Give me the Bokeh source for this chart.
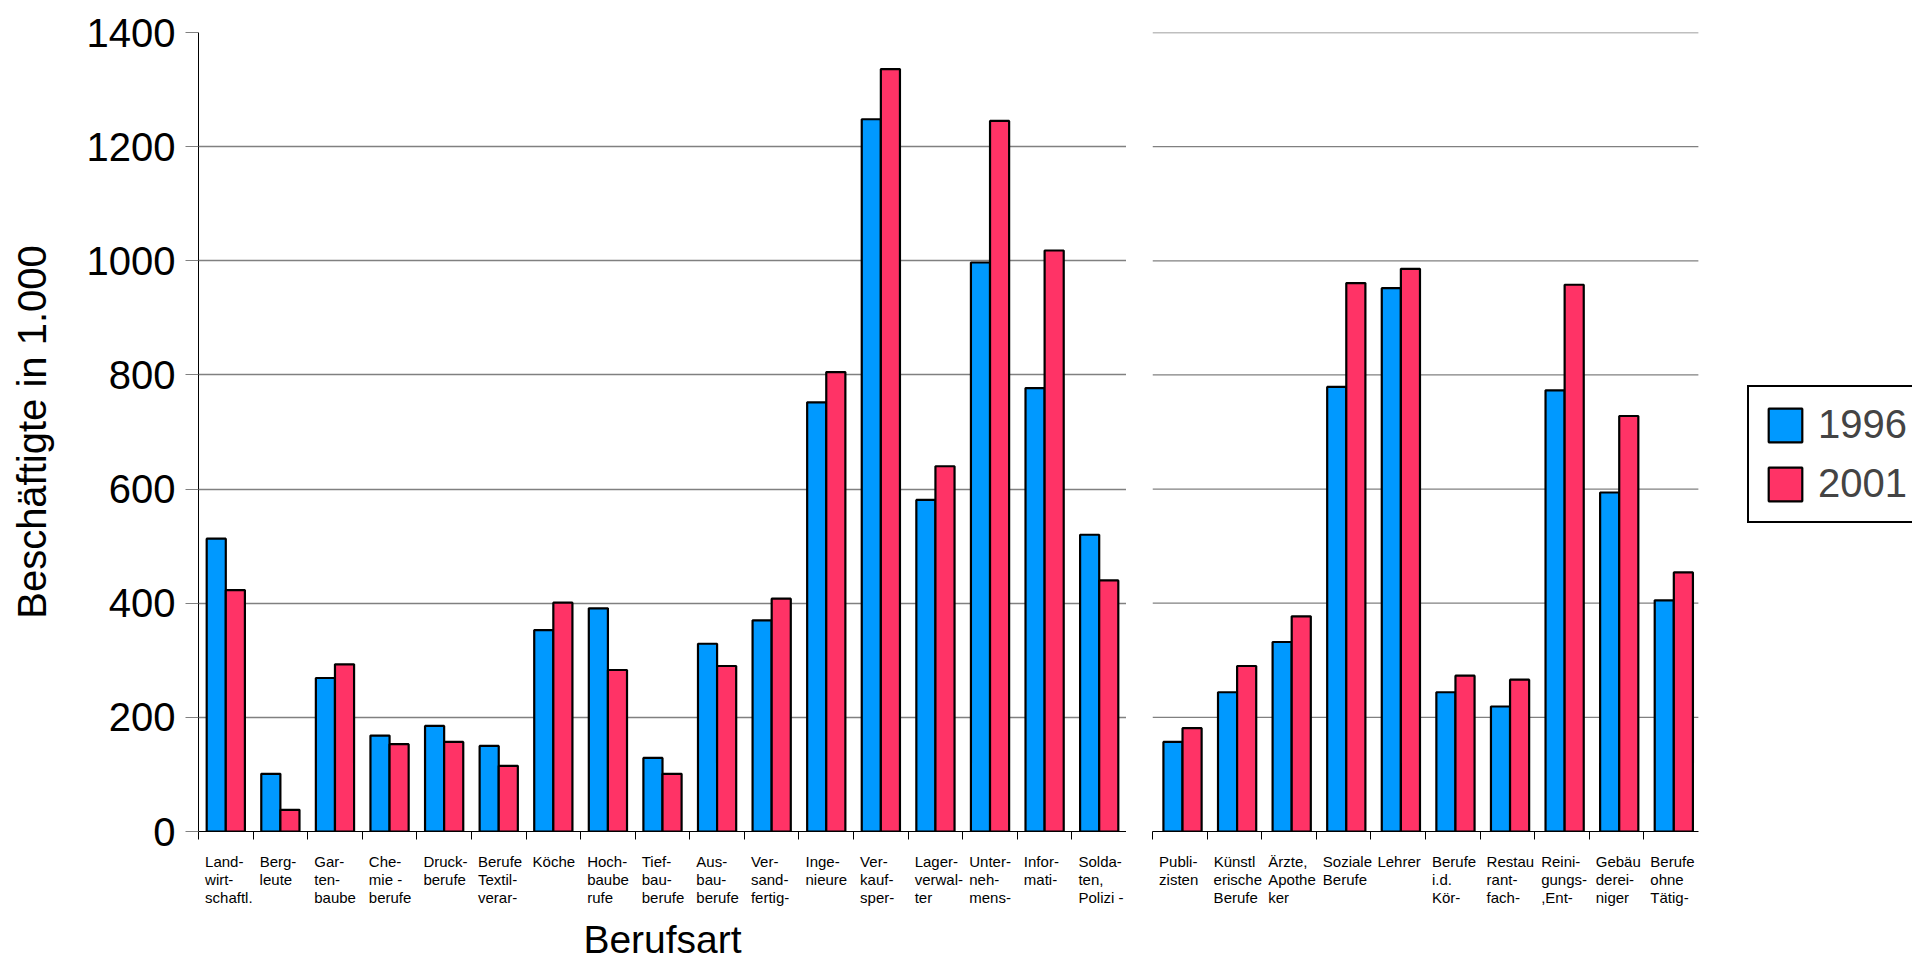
from bokeh.plotting import figure
from bokeh.models import (Range1d, FixedTicker, ColumnDataSource, Legend, LegendItem)
from bokeh.layouts import row
from bokeh.embed import file_html
from bokeh.resources import INLINE

# ---------------- data ----------------
cats_left = [
    "Land-\nwirt-\nschaftl.", "Berg-\nleute", "Gar-\nten-\nbaube", "Che-\nmie -\nberufe",
    "Druck-\nberufe", "Berufe\nTextil-\nverar-", "Köche", "Hoch-\nbaube\nrufe",
    "Tief-\nbau-\nberufe", "Aus-\nbau-\nberufe", "Ver-\nsand-\nfertig-", "Inge-\nnieure",
    "Ver-\nkauf-\nsper-", "Lager-\nverwal-\nter", "Unter-\nneh-\nmens-", "Infor-\nmati-",
    "Solda-\nten,\nPolizi -",
]
v1996_left = [513, 101, 269, 168, 185, 150, 353, 391, 129, 329, 370, 752, 1248, 581, 997, 777, 520]
v2001_left = [423, 38, 293, 153, 157, 115, 401, 283, 101, 290, 408, 805, 1336, 640, 1245, 1018, 440]

cats_right = [
    "Publi-\nzisten", "Künstl\nerische\nBerufe", "Ärzte,\nApothe\nker", "Soziale\nBerufe",
    "Lehrer", "Berufe\ni.d.\nKör-", "Restau\nrant-\nfach-", "Reini-\ngungs-\n,Ent-",
    "Gebäu\nderei-\nniger", "Berufe\nohne\nTätig-",
]
v1996_right = [157, 244, 332, 779, 952, 244, 219, 773, 594, 405]
v2001_right = [181, 290, 377, 961, 986, 273, 266, 958, 728, 454]

series = ["1996", "2001"]
y_ticks = [0, 200, 400, 600, 800, 1000, 1200, 1400]
y_label = "Beschäftigte in 1.000"
x_label = "Berufsart"

# ---------------- style ----------------
COLORS = ["#0099ff", "#ff3366"]
FONT = "Liberation Sans"
H = 963
TOP = 32
FRAME_H = 800
BOTTOM = H - TOP - FRAME_H
BAR_W = 0.35
GRID_COLOR = "#808080"
LABEL_POS = 0.12
CAT_PX = 928 / len(cats_left)      # pixel width of one category


def make_panel(cats, a, b, width, bl, off, frame_w, own_grid):
    n = len(cats)
    x_end = frame_w / CAT_PX
    p = figure(width=width, height=H, x_range=Range1d(0, x_end), y_range=Range1d(0, y_ticks[-1]),
               output_backend="svg", toolbar_location=None,
               min_border_left=bl, min_border_right=0,
               min_border_top=TOP, min_border_bottom=BOTTOM)
    p.outline_line_color = None
    p.background_fill_color = "white"
    p.border_fill_color = "white"

    yt = FixedTicker(ticks=y_ticks)
    p.yaxis.ticker = yt
    p.ygrid.ticker = yt
    p.xgrid.visible = False
    if own_grid:
        p.ygrid.grid_line_color = GRID_COLOR
        p.ygrid.grid_line_width = 1.3
    else:
        # grid lines limited to the category area (the legend sits to the right)
        p.ygrid.visible = False
        gl = y_ticks[1:]
        p.segment(x0=[0] * len(gl), x1=[n] * len(gl), y0=gl, y1=gl,
                  line_color=GRID_COLOR, line_width=1.3, level="underlay")

    idx = list(range(n))
    label_pos = [i + LABEL_POS for i in idx]
    xt = FixedTicker(ticks=label_pos, minor_ticks=idx)
    xa = p.xaxis[0]
    xa.ticker = xt
    xa.bounds = (0, n)
    # pad every label to three lines so the first lines line up
    xa.major_label_overrides = {pos: c + "\n" * (2 - c.count("\n"))
                                for pos, c in zip(label_pos, cats)}
    xa.major_label_orientation = -0.0001
    xa.axis_line_color = "black"
    xa.axis_line_width = 1
    xa.major_tick_line_color = None
    xa.major_tick_out = 0
    xa.major_tick_in = 0
    xa.minor_tick_line_color = "black"
    xa.minor_tick_out = 8
    xa.minor_tick_in = 0
    xa.major_label_standoff = 40
    xa.major_label_text_font = FONT
    xa.major_label_text_font_size = "15px"
    xa.major_label_text_color = "black"
    xa.major_label_text_align = "left"
    xa.major_label_text_line_height = 1.03

    src = ColumnDataSource(dict(
        x1=[i + off + BAR_W / 2 for i in idx],
        x2=[i + off + BAR_W * 1.5 for i in idx],
        a=a, b=b,
    ))
    r1 = p.vbar(x="x1", top="a", width=BAR_W, source=src, fill_color=COLORS[0],
                line_color="black", line_width=2.2)
    r2 = p.vbar(x="x2", top="b", width=BAR_W, source=src, fill_color=COLORS[1],
                line_color="black", line_width=2.2)
    return p, r1, r2


p1, _, _ = make_panel(cats_left, v1996_left, v2001_left, 1126, 198, 0.15, 928, True)
p2, a2, b2 = make_panel(cats_right, v1996_right, v2001_right, 786, 26, 0.2, 760, False)

# y axis (left panel)
ya = p1.yaxis[0]
ya.axis_line_color = "black"
ya.axis_line_width = 1
ya.major_tick_out = 13
ya.major_tick_in = 0
ya.major_tick_line_color = GRID_COLOR
ya.minor_tick_line_color = None
ya.major_label_standoff = 10
ya.major_label_text_font = FONT
ya.major_label_text_font_size = "40px"
ya.major_label_text_color = "black"
ya.axis_label = y_label
ya.axis_label_text_font = FONT
ya.axis_label_text_font_size = "40px"
ya.axis_label_text_font_style = "normal"
ya.axis_label_text_color = "black"
ya.axis_label_standoff = 30

xa1 = p1.xaxis[0]
xa1.axis_label = x_label
xa1.axis_label_text_font = FONT
xa1.axis_label_text_font_size = "39px"
xa1.axis_label_text_font_style = "normal"
xa1.axis_label_text_color = "black"
xa1.axis_label_standoff = -17

p2.yaxis.visible = False

legend = Legend(items=[LegendItem(label=series[0], renderers=[a2]),
                       LegendItem(label=series[1], renderers=[b2])],
                location=(595, 308), glyph_width=42, glyph_height=42,
                label_text_font=FONT, label_text_font_size="40px", label_standoff=12,
                padding=15, spacing=14, margin=0,
                border_line_color="black", border_line_width=2, border_line_alpha=1.0,
                background_fill_color="white", background_fill_alpha=1.0)
p2.add_layout(legend)

layout = row(p1, p2)
open("out.html", "w").write(file_html(layout, INLINE))
